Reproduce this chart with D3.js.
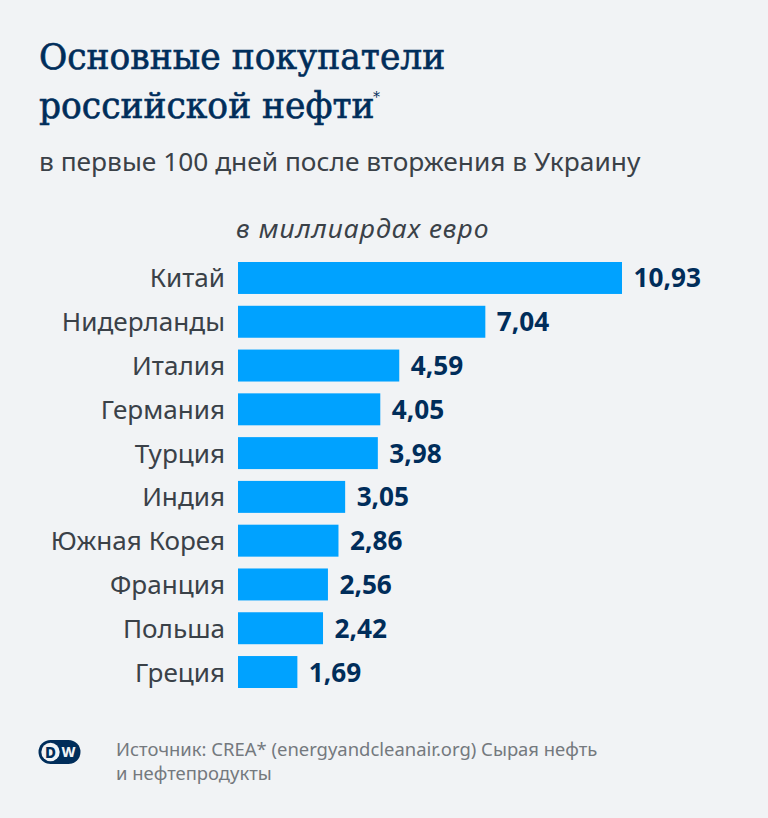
<!DOCTYPE html>
<html>
<head>
<meta charset="utf-8">
<script src="https://cdn.jsdelivr.net/npm/d3@7"></script>
<style>
html, body { margin: 0; padding: 0; background: #f1f3f5; }
svg { display: block; }
text { font-family: "Noto Sans", sans-serif; }
</style>
</head>
<body>
<svg id="chart" width="768" height="818"></svg>
<script>
var countries = ["Китай", "Нидерланды", "Италия", "Германия", "Турция", "Индия", "Южная Корея", "Франция", "Польша", "Греция"];
var values = [10.93, 7.04, 4.59, 4.05, 3.98, 3.05, 2.86, 2.56, 2.42, 1.69];
var title_lines = ["Основные покупатели", "российской нефти"];
var subtitle = "в первые 100 дней после вторжения в Украину";
var unit_label = "в миллиардах евро";
var source_lines = ["Источник: CREA* (energyandcleanair.org) Сырая нефть", "и нефтепродукты"];

var navy = "#002d5a";
var grey = "#3a4148";

var svg = d3.select("#chart");

var x = d3.scaleLinear().domain([0, 10.93]).range([238, 622]);
var y = d3.scaleBand().domain(countries).range([262, 688]).paddingInner(0.27).paddingOuter(0);

// title
svg.selectAll(".title").data(title_lines).enter().append("text")
    .attr("class", "title")
    .attr("x", 39)
    .attr("y", function (d, i) { return 69 + i * 49; })
    .attr("fill", navy)
    .attr("stroke", navy)
    .attr("stroke-width", 0.6)
    .style("font-family", "'DejaVu Serif', serif")
    .style("font-size", "34.5px")
    .text(function (d) { return d; });

svg.append("text")
    .attr("x", 373).attr("y", 102)
    .attr("fill", navy)
    .style("font-family", "'DejaVu Serif', serif")
    .style("font-size", "14px")
    .text("*");

svg.append("text")
    .attr("x", 39).attr("y", 171)
    .attr("fill", grey)
    .style("font-size", "26.3px")
    .text(subtitle);

svg.append("text")
    .attr("x", 236).attr("y", 238)
    .attr("fill", grey)
    .style("font-size", "26.4px")
    .style("letter-spacing", "1.1px")
    .style("font-style", "italic")
    .text(unit_label);

// bars
svg.selectAll(".bar").data(values).enter().append("rect")
    .attr("class", "bar")
    .attr("x", x(0))
    .attr("y", function (d, i) { return y(countries[i]); })
    .attr("width", function (d) { return x(d) - x(0); })
    .attr("height", y.bandwidth())
    .attr("fill", "#00a2ff");

// country labels
svg.selectAll(".country").data(countries).enter().append("text")
    .attr("class", "country")
    .attr("x", 225)
    .attr("y", function (d) { return y(d) + y.bandwidth() / 2 + 9.5; })
    .attr("text-anchor", "end")
    .attr("fill", grey)
    .style("font-size", "26.1px")
    .text(function (d) { return d; });

// value labels
svg.selectAll(".value").data(values).enter().append("text")
    .attr("class", "value")
    .attr("x", function (d) { return x(d) + 11.5; })
    .attr("y", function (d, i) { return y(countries[i]) + y.bandwidth() / 2 + 9.5; })
    .attr("fill", navy)
    .style("font-size", "26.2px")
    .style("font-weight", "700")
    .text(function (d) { return d.toFixed(2).replace(".", ","); });

// DW logo
var logo = svg.append("g").attr("transform", "translate(38.5,740)");
logo.append("rect").attr("width", 42).attr("height", 24).attr("rx", 12).attr("fill", navy);
logo.append("circle").attr("cx", 12).attr("cy", 12).attr("r", 9.2).attr("fill", "#f1f3f5");
logo.append("text").attr("x", 12).attr("y", 17.5).attr("text-anchor", "middle")
    .attr("fill", navy).style("font-size", "15px").style("font-weight", "800").text("D");
logo.append("text").attr("x", 30).attr("y", 17).attr("text-anchor", "middle")
    .attr("fill", "#f1f3f5").style("font-size", "14px").style("font-weight", "800").text("W");

// source
svg.selectAll(".source").data(source_lines).enter().append("text")
    .attr("class", "source")
    .attr("x", 116)
    .attr("y", function (d, i) { return 756 + i * 24; })
    .attr("fill", "#74797e")
    .style("font-size", "18.45px")
    .text(function (d) { return d; });
</script>
</body>
</html>
